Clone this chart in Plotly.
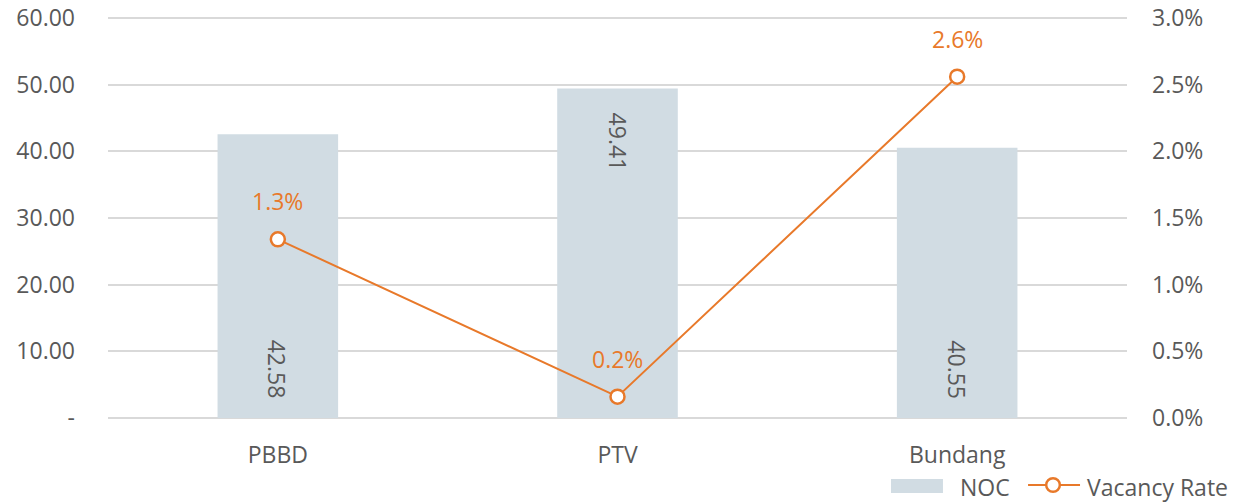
import plotly.graph_objects as go

# NOC by district and the matching vacancy rate
districts = ["PBBD", "PTV", "Bundang"]
noc = [42.58, 49.41, 40.55]
vacancy_rate = [0.0134, 0.0016, 0.0256]

noc_ticks = [0, 10, 20, 30, 40, 50, 60]
noc_tick_text = ["-", "10.00", "20.00", "30.00", "40.00", "50.00", "60.00"]

# where each NOC label sits inside its bar: at the base or at the top
noc_label_at_top = [False, True, False]

BAR = "#d1dce3"
ORANGE = "#e8792a"
GREY_TEXT = "#595959"
GRID = "#d9d9d9"
FONT = "Open Sans"
FS = 23

# 2px of headroom so the top gridline is drawn inside the plot area
HEAD = 402 / 400

fig = go.Figure()

fig.add_trace(go.Bar(
    x=districts, y=noc, name="NOC",
    marker=dict(color=BAR, line=dict(width=0)),
    width=0.355, showlegend=False, hoverinfo="skip",
))

fig.add_trace(go.Scatter(
    x=districts, y=vacancy_rate, name="Vacancy Rate", yaxis="y2",
    mode="lines+markers",
    line=dict(color=ORANGE, width=2),
    marker=dict(symbol="circle", size=14, color="white",
                line=dict(color=ORANGE, width=2.5)),
    showlegend=False, hoverinfo="skip",
))

annotations = []

# NOC value labels, rotated inside the bars
for d, v, top in zip(districts, noc, noc_label_at_top):
    annotations.append(dict(
        x=d, y=v if top else 0, xref="x", yref="y", text=f"{v:.2f}",
        showarrow=False, textangle=90,
        yanchor="top" if top else "bottom", yshift=-22 if top else 17,
        font=dict(family=FONT, size=FS, color=GREY_TEXT),
    ))

# vacancy rate labels above the markers
for d, v in zip(districts, vacancy_rate):
    annotations.append(dict(
        x=d, y=v, xref="x", yref="y2", text=f"{v:.1%}", showarrow=False,
        yanchor="bottom", yshift=20,
        font=dict(family=FONT, size=FS, color=ORANGE),
    ))

# legend drawn below the plot, right-aligned
shapes = [
    dict(type="rect", xref="paper", yref="paper",
         x0=0.7684, x1=0.8194, y0=-0.1866, y1=-0.1517,
         fillcolor=BAR, line=dict(width=0)),
    dict(type="line", xref="paper", yref="paper",
         x0=0.9029, x1=0.9539, y0=-0.1667, y1=-0.1667,
         line=dict(color=ORANGE, width=2)),
    dict(type="circle", xref="paper", yref="paper",
         x0=0.9207, x1=0.9341, y0=-0.1836, y1=-0.1498,
         fillcolor="white", line=dict(color=ORANGE, width=2.5)),
]
annotations += [
    dict(x=0.8342, y=-0.1716, xref="paper", yref="paper", text="NOC",
         showarrow=False, xanchor="left", yanchor="middle",
         font=dict(family=FONT, size=FS, color=GREY_TEXT)),
    dict(x=0.9588, y=-0.1716, xref="paper", yref="paper", text="Vacancy Rate",
         showarrow=False, xanchor="left", yanchor="middle",
         font=dict(family=FONT, size=FS, color=GREY_TEXT)),
]

fig.update_layout(
    width=1250, height=502,
    margin=dict(l=108, r=123, t=16, b=84, autoexpand=False),
    paper_bgcolor="white", plot_bgcolor="white",
    font=dict(family=FONT, size=FS, color=GREY_TEXT),
    xaxis=dict(
        showgrid=False, showline=False, zeroline=False,
        ticks="", ticklabelstandoff=21,
        tickfont=dict(family=FONT, size=FS, color=GREY_TEXT),
    ),
    yaxis=dict(
        range=[0, 60 * HEAD], tickvals=noc_ticks, ticktext=noc_tick_text,
        showgrid=True, gridcolor=GRID, gridwidth=2,
        zeroline=True, zerolinecolor=GRID, zerolinewidth=2,
        showline=False, ticks="", ticklabelstandoff=32,
        tickfont=dict(family=FONT, size=FS, color=GREY_TEXT),
    ),
    yaxis2=dict(
        overlaying="y", side="right", range=[0, 0.03 * HEAD], dtick=0.005,
        tickformat=".1%", showgrid=False, zeroline=False, showline=False,
        ticks="", ticklabelstandoff=24,
        tickfont=dict(family=FONT, size=FS, color=GREY_TEXT),
    ),
    shapes=shapes, annotations=annotations,
)

fig.write_html("out.html")
